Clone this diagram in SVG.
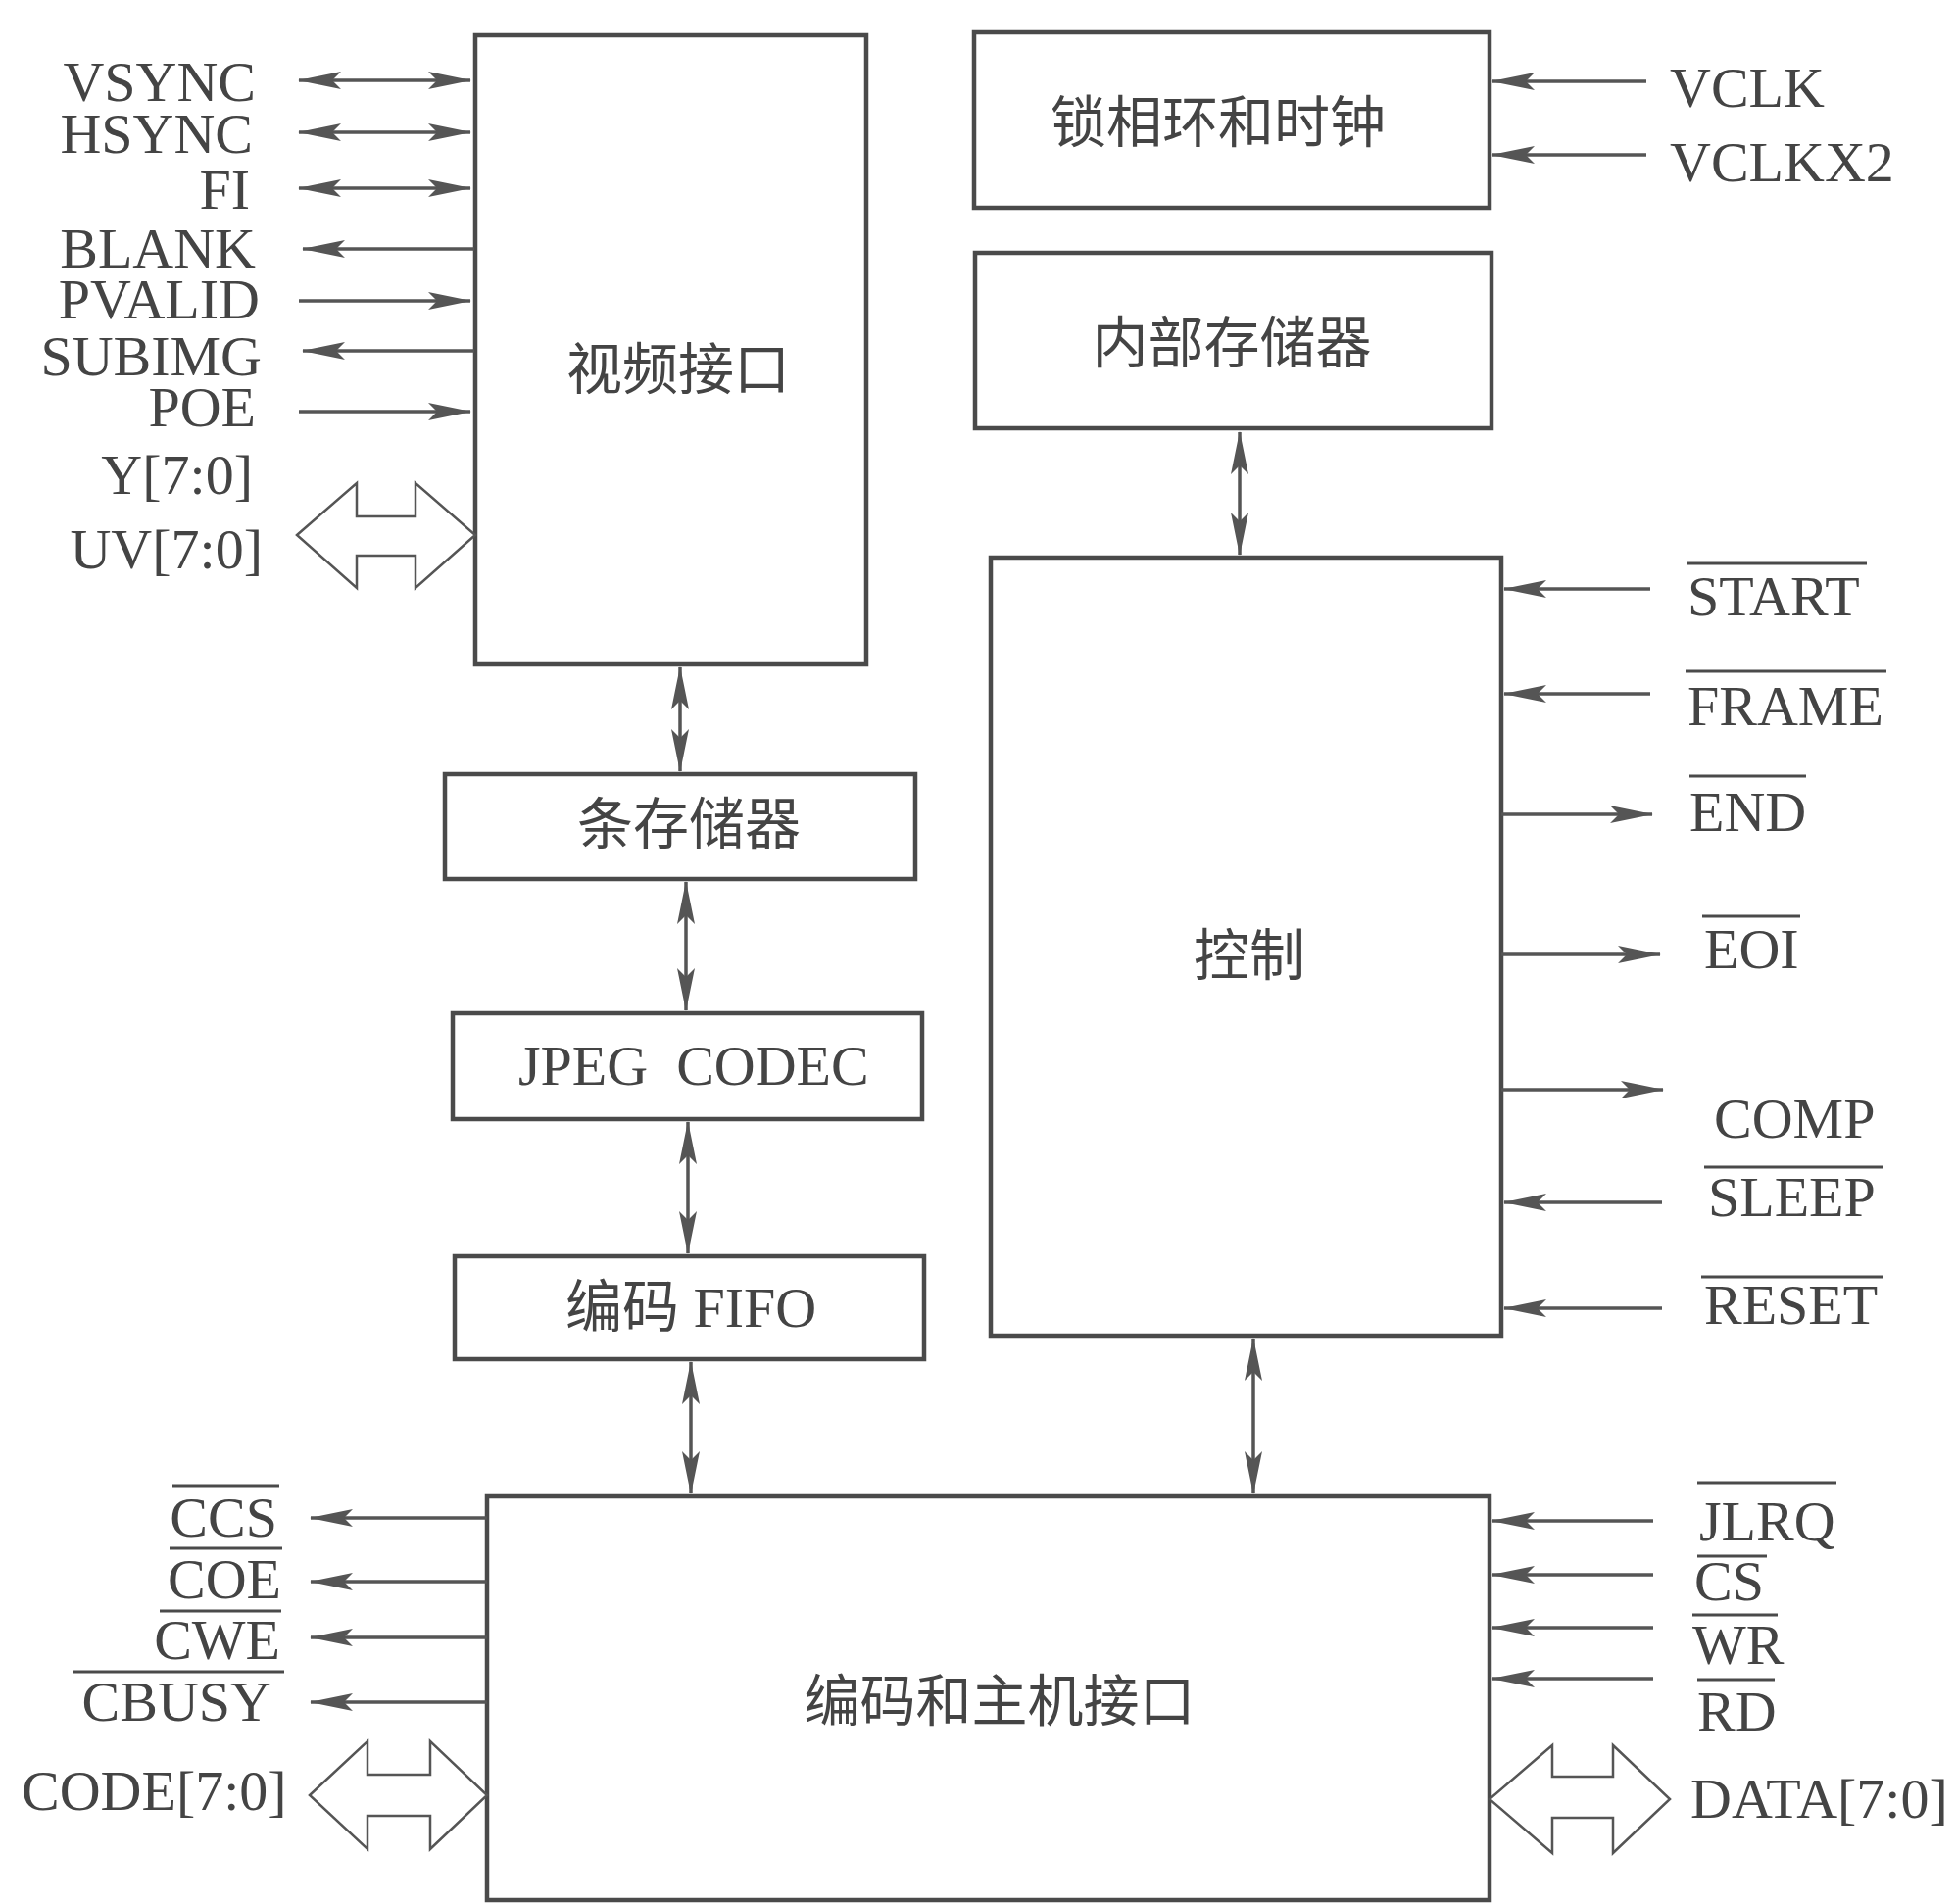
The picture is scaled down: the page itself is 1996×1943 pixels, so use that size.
<svg xmlns="http://www.w3.org/2000/svg" width="1996" height="1943" viewBox="0 0 1996 1943">
<style>
.box{fill:none;stroke:#4a4a4a;stroke-width:4.5}
.w{fill:none;stroke:#555;stroke-width:3.5}
.a{marker-end:url(#ah)}
.b{marker-start:url(#ah);marker-end:url(#ah)}
.ov{stroke:#4a4a4a;stroke-width:3}
.bus{fill:#fff;stroke:#555;stroke-width:2.5;stroke-linejoin:miter}
text{font-family:'Liberation Serif','Noto Sans CJK SC',serif;font-size:58px;fill:#444}
.r{text-anchor:end}
.c{text-anchor:middle}
.cjk{font-size:57px}
</style>
<defs>
<marker id="ah" markerUnits="userSpaceOnUse" viewBox="0 0 44 20" markerWidth="44" markerHeight="20" refX="43" refY="10" orient="auto-start-reverse">
<path d="M0,1 L44,10 L0,19 L9,10 z" fill="#555"/>
</marker>
</defs>
<rect width="1996" height="1943" fill="#fff"/>

<g id="video-interface">
<rect class="box" x="485" y="36" width="399" height="642"/>
<text class="c cjk" x="692" y="397">视频接口</text>
</g>
<g id="pll-clock">
<rect class="box" x="994" y="33" width="526" height="179"/>
<text class="c cjk" x="1243" y="145">锁相环和时钟</text>
</g>
<g id="internal-memory">
<rect class="box" x="995" y="258" width="527" height="179"/>
<text class="c cjk" x="1257" y="370">内部存储器</text>
</g>
<g id="control">
<rect class="box" x="1011" y="569" width="521" height="794"/>
<text class="c cjk" x="1275" y="995">控制</text>
</g>
<g id="strip-memory">
<rect class="box" x="454" y="790" width="480" height="107"/>
<text class="c cjk" x="703" y="861">条存储器</text>
</g>
<g id="jpeg-codec">
<rect class="box" x="462" y="1034" width="479" height="108"/>
<text x="529" y="1107" xml:space="preserve">JPEG  CODEC</text>
</g>
<g id="code-fifo">
<rect class="box" x="464" y="1282" width="479" height="105"/>
<text x="577" y="1354">编码 FIFO</text>
</g>
<g id="host-interface">
<rect class="box" x="497" y="1527" width="1023" height="412"/>
<text class="c cjk" x="1020" y="1756">编码和主机接口</text>
</g>

<g id="connectors">
<line class="w b" x1="305" y1="82" x2="480" y2="82"/>
<line class="w b" x1="305" y1="135" x2="480" y2="135"/>
<line class="w b" x1="305" y1="192" x2="480" y2="192"/>
<line class="w a" x1="484" y1="254" x2="309" y2="254"/>
<line class="w a" x1="305" y1="307" x2="480" y2="307"/>
<line class="w a" x1="484" y1="358" x2="309" y2="358"/>
<line class="w a" x1="305" y1="420" x2="480" y2="420"/>
<polygon class="bus" points="303,546 364,493 364,527 424,527 424,493 485,546 424,600 424,567 364,567 364,600"/>
<line class="w a" x1="1680" y1="83" x2="1523" y2="83"/>
<line class="w a" x1="1680" y1="158" x2="1523" y2="158"/>
<line class="w b" x1="1265" y1="441" x2="1265" y2="566"/>
<line class="w b" x1="694" y1="681" x2="694" y2="787"/>
<line class="w b" x1="700" y1="900" x2="700" y2="1031"/>
<line class="w b" x1="702" y1="1145" x2="702" y2="1279"/>
<line class="w b" x1="705" y1="1390" x2="705" y2="1524"/>
<line class="w b" x1="1279" y1="1366" x2="1279" y2="1524"/>
<line class="w a" x1="1684" y1="601" x2="1535" y2="601"/>
<line class="w a" x1="1684" y1="708" x2="1535" y2="708"/>
<line class="w a" x1="1532" y1="831" x2="1686" y2="831"/>
<line class="w a" x1="1532" y1="974" x2="1694" y2="974"/>
<line class="w a" x1="1532" y1="1112" x2="1697" y2="1112"/>
<line class="w a" x1="1696" y1="1227" x2="1535" y2="1227"/>
<line class="w a" x1="1696" y1="1335" x2="1535" y2="1335"/>
<line class="w a" x1="497" y1="1549" x2="317" y2="1549"/>
<line class="w a" x1="497" y1="1614" x2="317" y2="1614"/>
<line class="w a" x1="497" y1="1671" x2="317" y2="1671"/>
<line class="w a" x1="497" y1="1737" x2="317" y2="1737"/>
<polygon class="bus" points="316,1832 375,1777 375,1811 439,1811 439,1777 497,1832 439,1887 439,1853 375,1853 375,1887"/>
<line class="w a" x1="1687" y1="1552" x2="1523" y2="1552"/>
<line class="w a" x1="1687" y1="1607" x2="1523" y2="1607"/>
<line class="w a" x1="1687" y1="1661" x2="1523" y2="1661"/>
<line class="w a" x1="1687" y1="1713" x2="1523" y2="1713"/>
<polygon class="bus" points="1520,1836 1584,1781 1584,1813 1646,1813 1646,1781 1704,1836 1646,1891 1646,1855 1584,1855 1584,1891"/>
</g>

<g id="labels">
<text class="r" x="261" y="103">VSYNC</text>
<text class="r" x="258" y="156">HSYNC</text>
<text class="r" x="255" y="213">FI</text>
<text class="r" x="261" y="273">BLANK</text>
<text class="r" x="265" y="325">PVALID</text>
<text class="r" x="267" y="383">SUBIMG</text>
<text class="r" x="261" y="435">POE</text>
<text class="r" x="258" y="504">Y[7:0]</text>
<text class="r" x="268" y="580">UV[7:0]</text>

<text x="1704" y="109">VCLK</text>
<text x="1704" y="185">VCLKX2</text>

<text x="1722" y="628">START</text>
<text x="1722" y="740">FRAME</text>
<text x="1724" y="848">END</text>
<text x="1739" y="988">EOI</text>
<text x="1749" y="1161">COMP</text>
<text x="1743" y="1241">SLEEP</text>
<text x="1739" y="1351">RESET</text>

<text class="r" x="283" y="1568">CCS</text>
<text class="r" x="287" y="1631">COE</text>
<text class="r" x="286" y="1693">CWE</text>
<text class="r" x="277" y="1756">CBUSY</text>
<text x="22" y="1847">CODE[7:0]</text>

<text x="1734" y="1572">JLRQ</text>
<text x="1729" y="1633">CS</text>
<text x="1727" y="1698">WR</text>
<text x="1732" y="1766">RD</text>
<text x="1725" y="1855">DATA[7:0]</text>

<line class="ov" x1="1721" y1="575" x2="1905" y2="575"/>
<line class="ov" x1="1720" y1="685" x2="1925" y2="685"/>
<line class="ov" x1="1724" y1="792" x2="1843" y2="792"/>
<line class="ov" x1="1737" y1="935" x2="1837" y2="935"/>
<line class="ov" x1="1739" y1="1191" x2="1922" y2="1191"/>
<line class="ov" x1="1736" y1="1303" x2="1922" y2="1303"/>
<line class="ov" x1="176" y1="1516" x2="285" y2="1516"/>
<line class="ov" x1="173" y1="1580" x2="288" y2="1580"/>
<line class="ov" x1="163" y1="1644" x2="287" y2="1644"/>
<line class="ov" x1="74" y1="1706" x2="290" y2="1706"/>
<line class="ov" x1="1732" y1="1513" x2="1874" y2="1513"/>
<line class="ov" x1="1732" y1="1588" x2="1803" y2="1588"/>
<line class="ov" x1="1727" y1="1648" x2="1814" y2="1648"/>
<line class="ov" x1="1732" y1="1714" x2="1811" y2="1714"/>
</g>
</svg>
